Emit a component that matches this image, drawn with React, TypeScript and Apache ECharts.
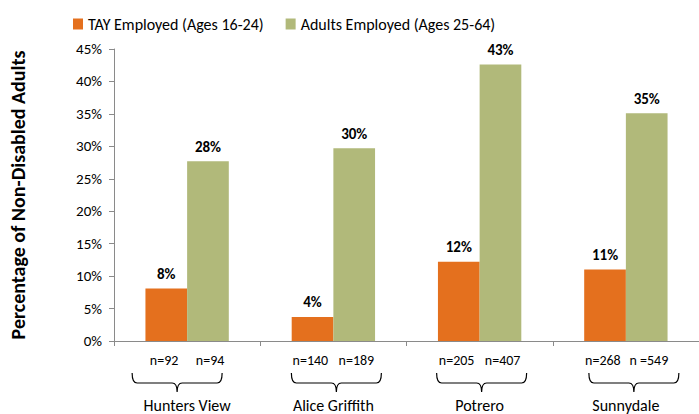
import React, { useEffect, useRef } from "react";
import * as echarts from "echarts";

const categories = ["Hunters View", "Alice Griffith", "Potrero", "Sunnydale"];
const tayEmployed = [8.1, 3.7, 12.2, 11.0];
const adultsEmployed = [27.7, 29.7, 42.6, 35.1];
const tayCounts = ["n=92", "n=140", "n=205", "n=268"];
const adultCounts = ["n=94", "n=189", "n=407", "n =549"];
const seriesNames = ["TAY Employed (Ages 16-24)", "Adults Employed (Ages 25-64)"];

const braceShift = [-10, 3, 2, 8];
const FONT = "Carlito, Calibri, Lato, sans-serif";

export default function App() {
  const ref = useRef<HTMLDivElement>(null);
  useEffect(() => {
    const chart = echarts.init(ref.current!, null, { renderer: "svg" });
    const barLabel = {
      show: true,
      position: "top",
      distance: 7,
      fontSize: 15,
      fontWeight: "bold",
      color: "#000",
      fontFamily: FONT,
      formatter: (p: any) => `${Math.round(p.value)}%`,
    };
    const option: any = {
      animation: false,
      textStyle: { fontFamily: FONT },
      legend: {
        data: seriesNames,
        left: 68,
        top: 11,
        icon: "rect",
        itemWidth: 10,
        itemHeight: 11,
        itemGap: 22,
        textStyle: { fontSize: 16, color: "#000", fontFamily: FONT },
      },
      grid: { left: 108, right: -6, top: 49, bottom: 73, containLabel: false },
      xAxis: {
        type: "category",
        data: categories,
        axisLine: { lineStyle: { color: "#8a8a8a" } },
        axisTick: { show: true, length: 5, lineStyle: { color: "#8a8a8a" } },
        axisLabel: {
          margin: 11,
          interval: 0,
          formatter: (v: string, i: number) =>
            `{a|${tayCounts[i]}}{b|${adultCounts[i]}}\n{name|${v}}`,
          rich: {
            a: { width: 46, align: "center", fontSize: 14, lineHeight: 16, color: "#000", fontFamily: FONT },
            b: { width: 46, align: "center", fontSize: 14, lineHeight: 16, color: "#000", fontFamily: FONT },
            name: { fontSize: 16, lineHeight: 74, color: "#000", fontFamily: FONT },
          },
        },
      },
      yAxis: {
        type: "value",
        min: 0,
        max: 45,
        interval: 5,
        name: "Percentage of Non-Disabled Adults",
        nameLocation: "middle",
        nameGap: 86,
        nameTextStyle: { fontSize: 20, fontWeight: "bold", color: "#000", fontFamily: FONT },
        axisLine: { show: true, lineStyle: { color: "#8a8a8a" } },
        axisTick: { show: true, length: 5, lineStyle: { color: "#8a8a8a" } },
        axisLabel: { formatter: "{value}%", fontSize: 15, color: "#000", margin: 12, fontFamily: FONT },
        splitLine: { show: false },
      },
      series: [
        {
          name: seriesNames[0],
          type: "bar",
          data: tayEmployed,
          barGap: "0%",
          barCategoryGap: "43%",
          itemStyle: { color: "#e4701e" },
          label: barLabel,
        },
        {
          name: seriesNames[1],
          type: "bar",
          data: adultsEmployed,
          barGap: "0%",
          barCategoryGap: "43%",
          itemStyle: { color: "#b1b97a" },
          label: barLabel,
        },
        {
          type: "custom",
          clip: false,
          silent: true,
          data: categories.map((_, i) => [i, 0]),
          encode: { x: 0, y: 1 },
          renderItem: (params: any, api: any) => {
            const idx = api.value(0);
            const p = api.coord([idx, 0]);
            const cx = p[0] + braceShift[idx];
            const y0 = p[1];
            const hw = 45;
            const top = y0 + 32;
            const mid = y0 + 42;
            const bot = y0 + 51;
            const d = `M${cx - hw},${top} Q${cx - hw},${mid} ${cx - hw + 5},${mid} L${cx - 5},${mid} Q${cx},${mid} ${cx},${bot} Q${cx},${mid} ${cx + 5},${mid} L${cx + hw - 5},${mid} Q${cx + hw},${mid} ${cx + hw},${top}`;
            return {
              type: "path",
              shape: { pathData: d },
              style: { fill: "none", stroke: "#000", lineWidth: 1.2 },
            };
          },
        },
      ],
    };
    chart.setOption(option);
    return () => chart.dispose();
  }, []);
  return <div ref={ref} style={{ width: 699, height: 414, position: "absolute", left: 0, top: 0, background: "#fff" }} />;
}
